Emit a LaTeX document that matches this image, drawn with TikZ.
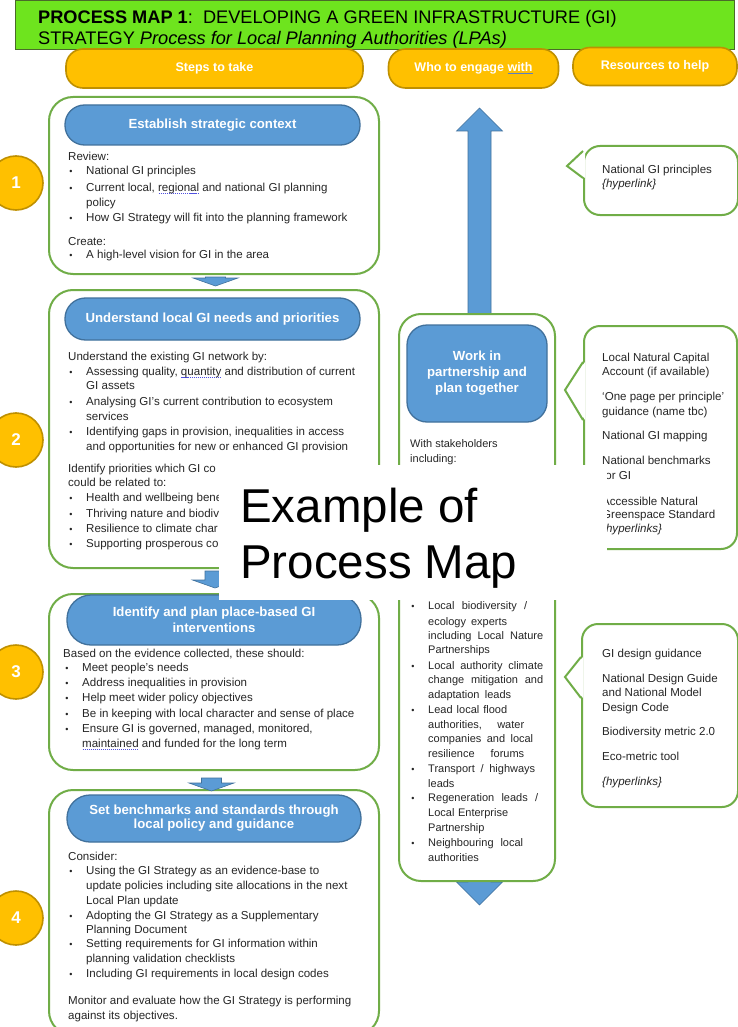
\documentclass[tikz,border=0pt]{standalone}
\usepackage{fontspec}
\setmainfont{Liberation Sans}
\usetikzlibrary{calc}
\definecolor{gGreen}{HTML}{70AD47}
\definecolor{bFill}{HTML}{5B9BD5}
\definecolor{bLine}{HTML}{41719C}
\definecolor{oFill}{HTML}{FFC000}
\definecolor{oLine}{HTML}{BF9000}
\definecolor{hdr}{HTML}{6EE41E}
\definecolor{hdrline}{HTML}{4A6B2A}
\definecolor{tcol}{HTML}{262626}
\definecolor{wavc}{HTML}{5050E0}
\definecolor{ulc}{HTML}{5B7FC4}
\newcommand\wv[1]{\setbox0\hbox{#1}\rlap{\hbox to \wd0{\color{wavc}\xleaders\hbox to 2pt{\hss\rule[-2.4pt]{1.2pt}{0.7pt}\hss}\hfill}}\box0\relax}
\newcommand\ulw[1]{\setbox0\hbox{#1}\rlap{\color{ulc}\rule[-2.8pt]{\wd0}{1.4pt}}\box0\relax}
\newcommand\smallarrow[2]{\draw[barrow] ($(#1)+(-10,0)$) -- ($(#1)+(10,0)$) -- ($(#2)+(10,-8)$) -- ($(#2)+(22.5,-8)$) -- (#2) -- ($(#2)+(-22.5,-8)$) -- ($(#2)+(-10,-8)$) -- cycle;}
\begin{document}
\begin{tikzpicture}[x=1pt,y=-1pt,
  txt/.style={anchor=base west, inner sep=0pt, font=\fontsize{11.55}{13}\selectfont, text=tcol},
  mtxt/.style={anchor=base west, inner sep=0pt, font=\fontsize{11}{13}\selectfont, text=tcol},
  bul/.style={anchor=base, inner sep=0pt, font=\fontsize{9}{12}\selectfont, text=tcol},
  stepbox/.style={draw=gGreen, line width=2pt, rounded corners=24pt, fill=white, anchor=north west, inner sep=0pt},
  pill/.style={draw=bLine, line width=1.3pt, fill=bFill, inner sep=0pt, text=white, align=center, font=\bfseries\fontsize{13.2}{16}\selectfont},
  opill/.style={draw=oLine, line width=1.6pt, fill=oFill, rounded corners=17pt, inner sep=0pt, text=white, font=\bfseries\fontsize{12.5}{14}\selectfont},
  numc/.style={circle, draw=oLine, line width=1.6pt, fill=oFill, minimum size=54pt, inner sep=0pt, text=white, font=\bfseries\fontsize{17}{20}\selectfont},
  barrow/.style={fill=bFill, draw=bLine, line width=0.6pt},
  callbox/.style={draw=gGreen, line width=2pt, rounded corners=16pt, fill=white, anchor=north west, inner sep=0pt},
]
\useasboundingbox (0,0) rectangle (738,1027);
\fill[white] (0,0) rectangle (738,1027);

% title bar
\node[draw=hdrline, line width=0.8pt, fill=hdr, minimum width=719pt, minimum height=49pt, anchor=north west, inner sep=0pt] (title) at (15,0) {};
\begin{scope}
\clip (15,0) rectangle (734,48);
\node[anchor=base west, inner sep=0pt, font=\fontsize{18.2}{20}\selectfont] (t1) at (38,23.5) {\textbf{PROCESS MAP 1}:\ \ DEVELOPING A GREEN INFRASTRUCTURE (GI)};
\node[anchor=base west, inner sep=0pt, font=\fontsize{18.2}{20}\selectfont] (t2) at (38,45) {STRATEGY \textit{Process for Local Planning Authorities (LPAs)}};
\end{scope}

% column headers
\node[opill, minimum width=297pt, minimum height=39pt] (steps) at (214.5,68.5) {Steps to take};
\node[opill, minimum width=170pt, minimum height=39pt] (who) at (473.5,68.5) {Who to engage \ulw{with}};
\node[opill, minimum width=164pt, minimum height=38pt] (res) at (655,66.5) {Resources to help};

% big middle arrow (behind box)
\coordinate (mtop) at (479.5,108);
\coordinate (mbot) at (479.5,905);
\draw[barrow] (mtop) -- ($(mtop)+(23,23)$) -- ($(mtop)+(11.5,23)$) -- ($(mbot)+(11.5,-23)$) -- ($(mbot)+(23,-23)$) -- (mbot) -- ($(mbot)+(-23,-23)$) -- ($(mbot)+(-11.5,-23)$) -- ($(mtop)+(-11.5,23)$) -- ($(mtop)+(-23,23)$) -- cycle;

% step boxes
\node[stepbox, minimum width=330pt, minimum height=177pt] (box1) at (48,96) {};
\node[stepbox, minimum width=330pt, minimum height=278pt] (box2) at (48,289) {};
\node[stepbox, minimum width=330pt, minimum height=176pt] (box3) at (48,593) {};
\node[stepbox, minimum width=330pt, minimum height=245pt] (box4) at (48,789) {};

% headings
\node[pill, rounded corners=19.5pt, minimum width=295pt, minimum height=40pt] (h1) at (212.5,125) {Establish strategic context};
\node[pill, rounded corners=20.5pt, minimum width=295pt, minimum height=42pt] (h2) at (212.5,319) {Understand local GI needs and priorities};
\node[pill, rounded corners=24pt, minimum width=294pt, minimum height=50pt, font=\bfseries\fontsize{13.2}{16}\selectfont] (h3) at (214,620) {Identify and plan place-based GI\\interventions};
\node[pill, rounded corners=23pt, minimum width=294pt, minimum height=47pt, font=\bfseries\fontsize{13.2}{14}\selectfont] (h4) at (214,818.5) {Set benchmarks and standards through\\local policy and guidance};

% arrows between steps
\coordinate (a1s) at ($(box1.south)+(1.5,2)$);
\coordinate (a1e) at ($(box2.north)+(1.5,-3)$);
\coordinate (a2s) at ($(box2.south)+(1,2)$);
\coordinate (a2e) at ($(box3.north)+(1,-5)$);
\coordinate (a3s) at ($(box3.south)+(-2.5,7)$);
\coordinate (a3e) at ($(box4.north)+(-2.5,2)$);
\smallarrow{a1s}{a1e}
\smallarrow{a2s}{a2e}
\smallarrow{a3s}{a3e}

% number circles
\node[numc] (n1) at (16,183) {1};
\node[numc] (n2) at (16,440) {2};
\node[numc] (n3) at (16,672) {3};
\node[numc] (n4) at (16,918) {4};

% box 1 text
\node[txt] (b1i1) at (68,161) {Review:};
\node[txt] (b1i2) at (68,245) {Create:};
\foreach \yy/\tt [count=\i] in {175/National GI principles, 191/{Current local, \wv{regional} and national GI planning}, 206/policy, 221/How GI Strategy will fit into the planning framework, 258/A high-level vision for GI in the area}
  \node[txt] (b1t\i) at (86,\yy) {\tt};
\foreach \yy [count=\i] in {175,191,221,258}
  \node[bul] (b1d\i) at (71,\yy) {\textbullet};

% box 2 text
\node[txt] (b2i1) at (68,360) {Understand the existing GI network by:};
\node[txt] (b2i2) at (68,472) {Identify priorities which GI co};
\node[txt] (b2i3) at (68,486) {could be related to:};
\foreach \yy/\tt [count=\i] in {375/{Assessing quality, \wv{quantity} and distribution of current}, 389/GI assets, 405/Analysing GI's current contribution to ecosystem, 420/services, 435/{Identifying gaps in provision, inequalities in access}, 450/and opportunities for new or enhanced GI provision, 501/Health and wellbeing bene, 517/Thriving nature and biodiv, 532/Resilience to climate char, 547/Supporting prosperous co}
  \node[txt] (b2t\i) at (86,\yy) {\tt};
\foreach \yy [count=\i] in {375,405,435,501,517,532,547}
  \node[bul] (b2d\i) at (71,\yy) {\textbullet};

% box 3 text
\node[txt] (b3i1) at (63,657) {Based on the evidence collected, these should:};
\foreach \yy/\tt [count=\i] in {671/Meet people's needs, 686/Address inequalities in provision, 701/Help meet wider policy objectives, 717/Be in keeping with local character and sense of place, 732/{Ensure GI is governed, managed, monitored,}, 747/{\wv{maintained} and funded for the long term}}
  \node[txt] (b3t\i) at (82,\yy) {\tt};
\foreach \yy [count=\i] in {671,686,701,717,732}
  \node[bul] (b3d\i) at (67,\yy) {\textbullet};

% box 4 text
\node[txt] (b4i1) at (68,860) {Consider:};
\node[txt] (b4i2) at (68,1004) {Monitor and evaluate how the GI Strategy is performing};
\node[txt] (b4i3) at (68,1019) {against its objectives.};
\foreach \yy/\tt [count=\i] in {874/Using the GI Strategy as an evidence-base to, 889/update policies including site allocations in the next, 904/Local Plan update, 919/Adopting the GI Strategy as a Supplementary, 933/Planning Document, 947/Setting requirements for GI information within, 962/planning validation checklists, 977/Including GI requirements in local design codes}
  \node[txt] (b4t\i) at (86,\yy) {\tt};
\foreach \yy [count=\i] in {874,919,947,977}
  \node[bul] (b4d\i) at (71,\yy) {\textbullet};

% middle column
\node[stepbox, rounded corners=22pt, minimum width=156pt, minimum height=567pt] (mid) at (398,313) {};
\node[pill, rounded corners=20pt, minimum width=140pt, minimum height=97pt] (mh) at (477,373.5) {Work in\\partnership and\\plan together};
\node[mtxt] (mi1) at (410,447) {With stakeholders};
\node[mtxt] (mi2) at (410,462) {including:};
\foreach \yy/\ww/\tt [count=\i] in {609/99/{Local biodiversity /}, 625/79/ecology experts, 639/115/including Local Nature, 653/0/Partnerships, 669/115/Local authority climate, 683/115/change mitigation and, 698/83/adaptation leads, 713/79/Lead local flood, 728/96/{authorities, water}, 742/105/companies and local, 757/96/resilience forums, 772/107/{Transport / highways}, 787/0/leads, 801/110/{Regeneration leads /}, 816/80/Local Enterprise, 831/0/Partnership, 846/95/Neighbouring local, 861/0/authorities}
  {\ifnum\ww=0 \node[mtxt] (mt\i) at (428,\yy) {\tt};\else \node[mtxt] (mt\i) at (428,\yy) {\makebox[\ww pt][s]{\tt}};\fi}
\foreach \yy [count=\i] in {609,669,713,772,801,846}
  \node[bul] (md\i) at (413,\yy) {\textbullet};

% callouts
\node[callbox, minimum width=154pt, minimum height=69pt] (c1) at (583,145) {};
\fill[white] (585,151) -- (567,166) -- (585,178) -- cycle;
\draw[gGreen, line width=2pt] (583,151) -- (567,166) -- (583,178);
\node[callbox, minimum width=153pt, minimum height=223pt] (c2) at (583,325) {};
\fill[white] (585,362) -- (565,390) -- (585,420) -- cycle;
\draw[gGreen, line width=2pt] (583,362) -- (565,390) -- (583,420);
\node[callbox, minimum width=156pt, minimum height=183pt] (c3) at (581,623) {};
\fill[white] (583,657) -- (565,677) -- (583,698) -- cycle;
\draw[gGreen, line width=2pt] (581,657) -- (565,677) -- (581,698);

\node[txt] (r1a) at (602,174) {National GI principles};
\node[txt] (r1b) at (602,188) {\textit{\{hyperlink\}}};
\foreach \yy/\tt [count=\i] in {361/Local Natural Capital, 375/Account (if available), 400/`One page per principle', 415/guidance (name tbc), 439/National GI mapping, 464/National benchmarks, 479/for GI, 505/Accessible Natural, 518/Greenspace Standard, 532/\textit{\{hyperlinks\}}}
  \node[txt] (r2t\i) at (602,\yy) {\tt};
\foreach \yy/\tt [count=\i] in {657/GI design guidance, 682/National Design Guide, 696/and National Model, 711/Design Code, 735/Biodiversity metric 2.0, 760/Eco-metric tool, 785/\textit{\{hyperlinks\}}}
  \node[txt] (r3t\i) at (602,\yy) {\tt};

% overlay label
\node[fill=white, minimum width=388pt, minimum height=135pt, anchor=north west, inner sep=0pt] (wm) at (219,465) {};
\node[anchor=base west, inner sep=0pt, font=\fontsize{47.5}{50}\selectfont] (wm1) at (240,522) {Example of};
\node[anchor=base west, inner sep=0pt, font=\fontsize{47.5}{50}\selectfont] (wm2) at (240,578) {Process Map};
\end{tikzpicture}
\end{document}
